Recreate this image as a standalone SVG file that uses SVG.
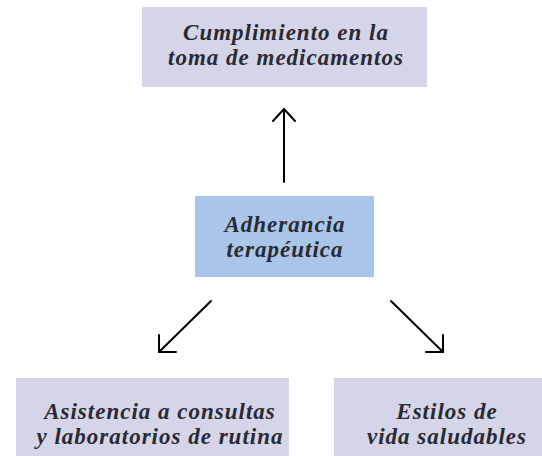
<svg xmlns="http://www.w3.org/2000/svg" width="542" height="456" viewBox="0 0 542 456">
<defs>
<style>
.box{fill:#d4d5e8}
.main{fill:#a9c5e8}
.t{font-family:"Liberation Serif","DejaVu Serif",serif;font-style:italic;font-weight:bold;font-size:23px;letter-spacing:1px;fill:#2a2a33;text-anchor:middle}
.c{stroke:#000;stroke-width:2;fill:none;stroke-linecap:round;stroke-linejoin:miter}
</style>
</defs>
<rect width="542" height="456" fill="#fff"/>
<g id="node-cumplimiento">
<rect class="box" x="142" y="7" width="285" height="80"/>
<text class="t" x="286" y="40">Cumplimiento en la</text>
<text class="t" x="286" y="65">toma de medicamentos</text>
</g>
<g id="node-adherancia">
<rect class="main" x="195" y="196" width="179" height="81"/>
<text class="t" x="285" y="232">Adherancia</text>
<text class="t" x="285" y="257">terapéutica</text>
</g>
<g id="node-asistencia">
<rect class="box" x="16" y="378" width="273" height="78"/>
<text class="t" x="160" y="419">Asistencia a consultas</text>
<text class="t" x="160" y="444">y laboratorios de rutina</text>
</g>
<g id="node-estilos">
<rect class="box" x="334" y="378" width="208" height="78"/>
<text class="t" x="447" y="419">Estilos de</text>
<text class="t" x="447" y="444">vida saludables</text>
</g>
<g id="connectors">
<path class="c" d="M284 182 V109 M273 121 L284 109 L295 121"/>
<path class="c" d="M211 301 L159 352 M159 335 V352 H176"/>
<path class="c" d="M391 301 L443 352 M443 335 V352 H426"/>
</g>
</svg>
